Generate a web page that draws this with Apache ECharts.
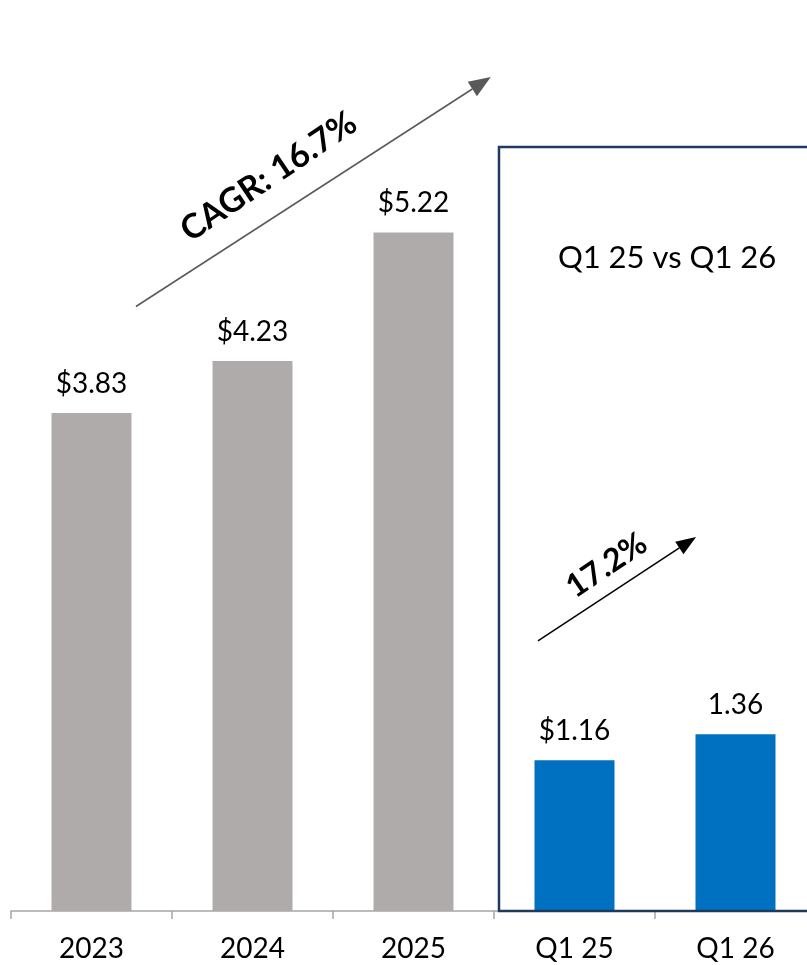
<!DOCTYPE html>
<html>
<head>
<meta charset="utf-8">
<title>EPS growth</title>
<script src="https://cdn.jsdelivr.net/npm/echarts@6/dist/echarts.min.js"></script>
<style>
  html, body { margin: 0; padding: 0; background: #ffffff; }
  #chart { width: 807px; height: 965px; }
</style>
</head>
<body>
<div id="chart"></div>
<script>
// Annual and quarterly values
const categories = ['2023', '2024', '2025', 'Q1 25', 'Q1 26'];
const barValues = [3.83, 4.23, 5.22, 1.16, 1.36];
const valueLabels = ['$3.83', '$4.23', '$5.22', '$1.16', '1.36'];
const isQuarter = [false, false, false, true, true];

// Growth callouts
const cagrText = 'CAGR: 16.7%';
const quarterGrowthText = '17.2%';
const boxTitle = 'Q1 25 vs Q1 26';

const FONT = 'Lato, "Open Sans", sans-serif';
const GRAY = '#AFABAB';
const BLUE = '#0070C0';
const NAVY = '#1F3A5F';

const chart = echarts.init(document.getElementById('chart'), null, { renderer: 'canvas' });

chart.setOption({
  animation: false,
  // the last category runs past the right edge of the page
  grid: { left: 11, top: 1, right: -9, bottom: 54, outerBoundsMode: 'none', containLabel: false },
  xAxis: {
    type: 'category',
    data: categories,
    axisLine: { show: true, lineStyle: { color: '#A6A6A6', width: 1.5 } },
    axisTick: { show: true, length: 8, lineStyle: { color: '#A6A6A6', width: 1.5 } },
    axisLabel: { color: '#000', fontFamily: FONT, fontSize: 28, margin: 24 }
  },
  yAxis: {
    type: 'value', min: 0, max: 7,
    show: false, splitLine: { show: false }
  },
  series: [{
    type: 'bar',
    barWidth: 80,
    data: barValues.map((v, i) => ({
      value: v,
      itemStyle: { color: isQuarter[i] ? BLUE : GRAY }
    })),
    label: {
      show: true,
      position: 'top',
      distance: 15,
      color: '#000',
      fontFamily: FONT,
      fontSize: 28,
      formatter: p => valueLabels[p.dataIndex]
    }
  }]
});

// Map (fractional category index, value) to pixels
function toPx(f, v) {
  const a = chart.convertToPixel({ gridIndex: 0 }, [0, v]);
  const b = chart.convertToPixel({ gridIndex: 0 }, [1, v]);
  return [a[0] + f * (b[0] - a[0]), a[1]];
}

function arrow(from, to, color, width, headLen, headW) {
  const p0 = toPx(from[0], from[1]);
  const p1 = toPx(to[0], to[1]);
  const dx = p1[0] - p0[0], dy = p1[1] - p0[1];
  const len = Math.sqrt(dx * dx + dy * dy);
  const ux = dx / len, uy = dy / len;
  const bx = p1[0] - ux * headLen, by = p1[1] - uy * headLen;
  const nx = -uy * headW / 2, ny = ux * headW / 2;
  return [
    { type: 'line', shape: { x1: p0[0], y1: p0[1], x2: bx, y2: by },
      style: { stroke: color, lineWidth: width }, z: 10 },
    { type: 'polygon', shape: { points: [[p1[0], p1[1]], [bx + nx, by + ny], [bx - nx, by - ny]] },
      style: { fill: color }, z: 10 }
  ];
}

function rotatedText(text, at, deg, size, bold) {
  const p = toPx(at[0], at[1]);
  return {
    type: 'text', x: p[0], y: p[1], rotation: deg * Math.PI / 180, z: 10,
    style: {
      text: text, fill: '#000', font: (bold ? 'bold ' : '') + size + 'px ' + FONT,
      align: 'center', verticalAlign: 'middle'
    }
  };
}

const boxTL = toPx(2.531, 5.877);
const base = toPx(0, 0);
const titlePos = toPx(3.575, 5.02);

chart.setOption({
  graphic: [
    { type: 'rect', z: 5,
      shape: { x: boxTL[0], y: boxTL[1], width: 900 - boxTL[0], height: base[1] - boxTL[1] },
      style: { fill: 'none', stroke: NAVY, lineWidth: 2.5 } },
    { type: 'text', x: titlePos[0], y: titlePos[1], z: 10,
      style: { text: boxTitle, fill: '#000', font: '31px ' + FONT, align: 'center', verticalAlign: 'middle' } },
    ...arrow([0.276, 4.65], [2.48, 6.415], '#595959', 1.5, 22, 17),
    rotatedText(cagrText, [1.10, 5.65], 34, 34, true),
    ...arrow([2.773, 2.077], [3.755, 2.877], '#000000', 1.5, 20, 15),
    rotatedText(quarterGrowthText, [3.2, 2.66], 34, 32, true)
  ]
});
</script>
</body>
</html>
